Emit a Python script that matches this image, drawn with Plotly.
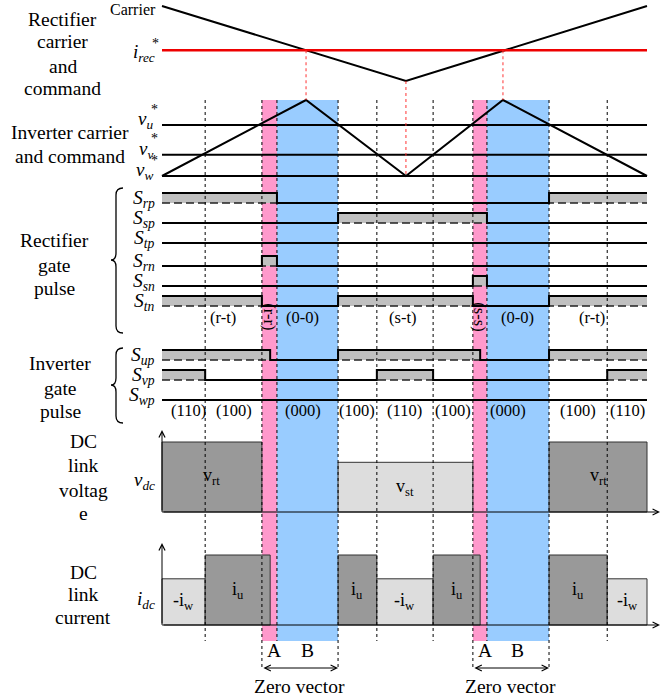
import plotly.graph_objects as go

# ---------------- data (time in % of one rectifier carrier period) ----------------
rect_carrier_t = [0.0, 50.3, 100.0]
rect_carrier_v = [1.0, 0.0, 1.0]
i_rec_ref = 0.41

inv_carrier_t = [0.0, 29.7, 50.3, 70.3, 100.0]
inv_carrier_v = [0.0, 1.0, 0.0, 1.0, 0.0]
inv_cmd_names = ["u", "v", "w"]
inv_cmd_values = [0.67, 0.28, 0.0]

rect_gate_names = ["rp", "sp", "tp", "rn", "sn", "tn"]
S_rp_t = [0.0, 23.7, 79.8, 100.0]
S_rp = [1, 0, 1]
S_sp_t = [0.0, 36.3, 67.0, 100.0]
S_sp = [0, 1, 0]
S_tp_t = [0.0, 100.0]
S_tp = [0]
S_rn_t = [0.0, 20.6, 23.7, 100.0]
S_rn = [0, 1, 0]
S_sn_t = [0.0, 64.1, 67.0, 100.0]
S_sn = [0, 1, 0]
S_tn_t = [0.0, 20.6, 36.3, 64.1, 79.8, 100.0]
S_tn = [1, 0, 1, 0, 1]

inv_gate_names = ["up", "vp", "wp"]
S_up_t = [0.0, 22.3, 36.3, 65.6, 79.8, 100.0]
S_up = [1, 0, 1, 0, 1]
S_vp_t = [0.0, 8.9, 44.3, 55.9, 91.8, 100.0]
S_vp = [1, 0, 1, 0, 1]
S_wp_t = [0.0, 100.0]
S_wp = [0]

rect_state_t = [12.6, 22.2, 28.9, 49.7, 65.5, 73.2, 88.7]
rect_state_labels = ["(r-t)", "(r-r)", "(0-0)", "(s-t)", "(s-s)", "(0-0)", "(r-t)"]
inv_state_t = [5.4, 14.8, 29.1, 40.2, 50.1, 60.0, 71.3, 85.8, 95.9]
inv_state_labels = ["(110)", "(100)", "(000)", "(100)", "(110)", "(100)", "(000)", "(100)", "(110)"]

vdc_t = [0.0, 20.6, 36.3, 64.1, 79.8, 100.0]
vdc_values = [1.0, 0.0, 0.71, 0.0, 1.0]
vdc_labels = ["v<sub>rt</sub>", "", "v<sub>st</sub>", "", "v<sub>rt</sub>"]

idc_t = [0.0, 8.9, 22.3, 36.3, 44.3, 55.9, 65.6, 79.8, 91.8, 100.0]
idc_values = [0.66, 1.0, 0.0, 1.0, 0.66, 1.0, 0.0, 1.0, 0.66]
idc_labels = ["-i<sub>w</sub>", "i<sub>u</sub>", "", "i<sub>u</sub>", "-i<sub>w</sub>",
              "i<sub>u</sub>", "", "i<sub>u</sub>", "-i<sub>w</sub>"]

zero_A = [[20.6, 23.7], [64.1, 67.0]]
zero_B = [[23.7, 36.3], [67.0, 79.8]]
crossing_t = [8.9, 20.6, 23.7, 36.3, 44.3, 55.9, 64.1, 67.0, 79.8, 91.8]

# ---------------- layout / style ----------------
W, H = 668, 698
X0_PX, X1_PX = 162.0, 647.0
K = (X1_PX - X0_PX) / 100.0
FONT = "Liberation Serif, Times New Roman, serif"
DARK, LIGHT, GATE_FILL = "#999999", "#dddddd", "#c0c0c0"
PINK, BLUE = "#ff99cc", "#99ccff"

def px_to_t(px):
    return (px - X0_PX) / K

def py_to_paper(py):
    return 1 - py / H

def px_to_paper(px):
    return px / W

axes = {}

def make_axis(name, v0, p0, v1, p1, rng):
    def py(v):
        return p0 + (v - v0) * (p1 - p0) / (v1 - v0)
    axes[name] = dict(domain=[py_to_paper(py(rng[0])), py_to_paper(py(rng[1]))],
                      range=list(rng), visible=False, fixedrange=True, anchor="x")
    return py

py_rc = make_axis("y", 0, 81, 1, 6, (-0.1, 1.06))
py_ic = make_axis("y2", 0, 176, 1, 100, (-0.15, 1.15))
rect_rows = [203, 223, 243, 266, 286, 306]
inv_rows = [360, 380, 400]
gate_signals = [(rect_gate_names[i], sig) for i, sig in enumerate(
    [(S_rp_t, S_rp), (S_sp_t, S_sp), (S_tp_t, S_tp), (S_rn_t, S_rn), (S_sn_t, S_sn), (S_tn_t, S_tn)])]
gate_signals += [(inv_gate_names[i], sig) for i, sig in enumerate(
    [(S_up_t, S_up), (S_vp_t, S_vp), (S_wp_t, S_wp)])]
row_px = rect_rows + inv_rows
gate_axes = []
for i, base in enumerate(row_px):
    nm = "y%d" % (3 + i)
    make_axis(nm, 0, base, 1, base - 10, (-0.6, 1.6))
    gate_axes.append(nm)
py_v = make_axis("y12", 0, 512, 1, 442, (-0.2, 1.25))
py_i = make_axis("y13", 0, 625, 1, 555, (-0.2, 1.25))

fig = go.Figure()

# carriers and commands
fig.add_trace(go.Scatter(x=rect_carrier_t, y=rect_carrier_v, mode="lines",
                         line=dict(color="black", width=2), xaxis="x", yaxis="y"))
fig.add_trace(go.Scatter(x=[0, 100], y=[i_rec_ref, i_rec_ref], mode="lines",
                         line=dict(color="#ee0000", width=2.5), xaxis="x", yaxis="y"))
for val in inv_cmd_values:
    fig.add_trace(go.Scatter(x=[0, 100], y=[val, val], mode="lines",
                             line=dict(color="black", width=2), xaxis="x", yaxis="y2"))
fig.add_trace(go.Scatter(x=inv_carrier_t, y=inv_carrier_v, mode="lines",
                         line=dict(color="black", width=2), xaxis="x", yaxis="y2"))

# gate pulses
for (name, (tt, ss)), ax in zip(gate_signals, gate_axes):
    yy = list(ss) + [ss[-1]]
    fig.add_trace(go.Scatter(x=tt, y=yy, mode="lines", line_shape="hv",
                             line=dict(width=0, color=GATE_FILL), fill="tozeroy",
                             fillcolor=GATE_FILL, xaxis="x", yaxis=ax))
    fig.add_trace(go.Scatter(x=[tt[0], tt[-1]], y=[0, 0], mode="lines",
                             line=dict(color="#222", width=1.5, dash="8px,4px"),
                             xaxis="x", yaxis=ax))
    fig.add_trace(go.Scatter(x=tt, y=yy, mode="lines", line_shape="hv",
                             line=dict(color="black", width=2), xaxis="x", yaxis=ax))

# DC link bars
def add_bars(edges, vals, labels, ax):
    xs, ws, vs, cs = [], [], [], []
    for i, v in enumerate(vals):
        if v <= 0:
            continue
        xs.append((edges[i] + edges[i + 1]) / 2)
        ws.append(edges[i + 1] - edges[i])
        vs.append(v)
        cs.append(LIGHT if ("st" in labels[i] or "-" in labels[i]) else DARK)
    fig.add_trace(go.Bar(x=xs, y=vs, width=ws, marker=dict(color=cs, line=dict(color="#333", width=1)),
                         xaxis="x", yaxis=ax))
    return xs, vs, [l for l, v in zip(labels, vals) if v > 0]

vb = add_bars(vdc_t, vdc_values, vdc_labels, "y12")
ib = add_bars(idc_t, idc_values, idc_labels, "y13")

shapes = []
band_top, band_bot = py_to_paper(100), py_to_paper(641)
for a, b in zero_A:
    shapes.append(dict(type="rect", xref="x", yref="paper", x0=a, x1=b, y0=band_bot, y1=band_top,
                       fillcolor=PINK, line=dict(width=0), layer="below"))
for a, b in zero_B:
    shapes.append(dict(type="rect", xref="x", yref="paper", x0=a, x1=b, y0=band_bot, y1=band_top,
                       fillcolor=BLUE, line=dict(width=0), layer="below"))
long_edges = [e for pair in zip([p[0] for p in zero_A], [p[1] for p in zero_B]) for e in pair]
for t in crossing_t:
    bottom = 668 if any(abs(t - e) < 1e-6 for e in long_edges) else 641
    shapes.append(dict(type="line", xref="x", yref="paper", x0=t, x1=t,
                       y0=py_to_paper(100), y1=py_to_paper(bottom),
                       line=dict(color="black", width=1, dash="dot"), layer="above"))
# red projections from rectifier carrier to inverter carrier
for t_r, v_top, v_bot in [(inv_carrier_t[1], i_rec_ref, inv_carrier_v[1]),
                          (inv_carrier_t[2], rect_carrier_v[1], inv_carrier_v[2]),
                          (inv_carrier_t[3], i_rec_ref, inv_carrier_v[3])]:
    shapes.append(dict(type="line", xref="x", yref="paper", x0=t_r, x1=t_r,
                       y0=py_to_paper(py_rc(v_top)), y1=py_to_paper(py_ic(v_bot)),
                       line=dict(color="#ff3333", width=1, dash="dot"), layer="above"))

def brace(top, tip, bot, xv=116, xe=123, xt=111):
    pts = lambda x, y: "%.5f,%.5f" % (px_to_paper(x), py_to_paper(y))
    return ("M" + pts(xe, top) + " Q" + pts(xv, top) + " " + pts(xv, top + 7) +
            " L" + pts(xv, tip - 7) + " Q" + pts(xv, tip) + " " + pts(xt, tip) +
            " Q" + pts(xv, tip) + " " + pts(xv, tip + 7) +
            " L" + pts(xv, bot - 7) + " Q" + pts(xv, bot) + " " + pts(xe, bot))

for top, tip, bot in [(188, 260, 333), (348, 385, 423)]:
    shapes.append(dict(type="path", xref="paper", yref="paper", path=brace(top, tip, bot),
                       line=dict(color="black", width=1.3)))

annotations = []

def ann(text, x, y, size=18, xanchor="center", yanchor="middle", xref="paper", yref="paper",
        textangle=0):
    xx = px_to_paper(x) if xref == "paper" else x
    yy = py_to_paper(y) if yref == "paper" else y
    annotations.append(dict(text=text, x=xx, y=yy, xref=xref, yref=yref, xanchor=xanchor,
                            yanchor=yanchor, showarrow=False, textangle=textangle,
                            font=dict(family=FONT, size=size, color="black")))

BIG = 19.5
for lines, xc, ys in [(["Rectifier", "carrier", "and", "command"], 63, [19, 42, 66, 89]),
                      (["Inverter carrier", "and command"], 70, [133, 156]),
                      (["Rectifier", "gate", "pulse"], 54, [241, 265, 288]),
                      (["Inverter", "gate", "pulse"], 60, [363, 388, 411]),
                      (["DC", "link", "voltag", "e"], 83, [442, 465, 490, 513]),
                      (["DC", "link", "current"], 83, [572, 594, 617])]:
    for txt, yl in zip(lines, ys):
        ann(txt, xc, yl, size=BIG)
ann("Carrier", 133, 10, size=16)
ann("<i>i<sub>rec</sub></i>", 157, 53, size=19, xanchor="right")
ann("*", 155, 44, size=14)
for name, val in zip(inv_cmd_names, inv_cmd_values):
    pyv = py_ic(val)
    ann("<i>v<sub>%s</sub></i>" % name, 155, pyv - 5, size=19, xanchor="right")
    ann("*", 154, pyv - 16, size=14)
for (name, _), base in zip(gate_signals, row_px):
    ann("<i>S<sub>%s</sub></i>" % name, 157, base - 4, size=19.5, xanchor="right")
ann("<i>v<sub>dc</sub></i>", 157, 481, size=19, xanchor="right")
ann("<i>i<sub>dc</sub></i>", 157, 600, size=19, xanchor="right")

for t, lab in zip(rect_state_t, rect_state_labels):
    rot = lab in ("(r-r)", "(s-s)")
    ann(lab, t, 317, size=16.5, xref="x", textangle=90 if rot else 0)
for t, lab in zip(inv_state_t, inv_state_labels):
    ann(lab, t, 410, size=16.5, xref="x")

for xs, vs, labs, ax in [(vb[0], vb[1], vb[2], "y12"), (ib[0], ib[1], ib[2], "y13")]:
    for x, v, lab in zip(xs, vs, labs):
        annotations.append(dict(text=lab, x=x, y=v * 0.5, xref="x", yref=ax, showarrow=False,
                                font=dict(family=FONT, size=18, color="black")))

for (a0, a1), (b0, b1) in zip(zero_A, zero_B):
    ann("A", (a0 + a1) / 2 + 1.0, 650, size=BIG, xref="x")
    ann("B", (b0 + b1) / 2, 650, size=BIG, xref="x")
    ann("Zero vector", (a0 + b1) / 2, 686, size=BIG, xref="x")
    annotations.append(dict(text="", x=b1, y=py_to_paper(668), ax=a0, ay=0,
                            xref="x", yref="paper", axref="x", ayref="pixel", showarrow=True,
                            arrowhead=5, startarrowhead=5, arrowside="end+start", arrowwidth=1,
                            arrowsize=1.2, startarrowsize=1.2, standoff=0, startstandoff=0,
                            arrowcolor="black"))

for ax in ["y12", "y13"]:
    annotations.append(dict(text="", x=0, y=1.17, ax=0, ay=0, xref="x", yref=ax, axref="x",
                            ayref=ax, showarrow=True, arrowhead=5, arrowwidth=1, arrowsize=1.2,
                            standoff=0, arrowcolor="black"))
    annotations.append(dict(text="", x=px_to_t(660), y=0, ax=0, ay=0, xref="x", yref=ax,
                            axref="x", ayref=ax, showarrow=True, arrowhead=5, arrowwidth=1,
                            arrowsize=1.2, standoff=0, arrowcolor="black"))

layout = dict(width=W, height=H, margin=dict(l=0, r=0, t=0, b=0), showlegend=False,
              paper_bgcolor="white", plot_bgcolor="rgba(0,0,0,0)", barmode="overlay",
              xaxis=dict(range=[px_to_t(0), px_to_t(W)], visible=False, fixedrange=True,
                         domain=[0, 1], anchor="y"),
              shapes=shapes, annotations=annotations)
for nm, spec in axes.items():
    key = "yaxis" if nm == "y" else "yaxis" + nm[1:]
    layout[key] = spec
fig.update_layout(**layout)
fig.write_html("out.html", config={"displayModeBar": False},
               post_script="document.body.style.margin='0';document.body.style.overflow='hidden';")
